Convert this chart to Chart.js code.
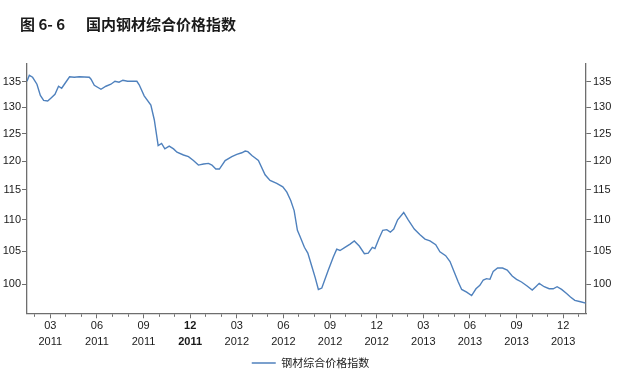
<!DOCTYPE html>
<html>
<head>
<meta charset="utf-8">
<script src="https://cdn.jsdelivr.net/npm/chart.js@4"></script>
<style>
  body { margin: 0; background: #fff; }
  #wrap { position: relative; width: 621px; height: 372px; }
  #title { position: absolute; left: 20px; top: 13px; font: bold 15px "Noto Sans CJK SC"; color: #1a1a1a; white-space: pre; }
  #title .name { position: absolute; left: 66px; top: 0; }
</style>
</head>
<body>
<div id="wrap">
  <canvas id="chart" width="621" height="372"></canvas>
  <div id="title"><span>图 6- 6</span><span class="name">国内钢材综合价格指数</span></div>
</div>
<script>
// month position: 0 = start of Jan 2011, 2 = Mar 2011 ...
const monthPos = [
  0.50, 0.65, 0.86, 1.14, 1.36, 1.57, 1.83, 2.05, 2.30, 2.53, 2.73, 2.95,
  3.24, 3.54, 3.86, 4.51, 4.62, 4.83, 5.26, 5.58, 5.90, 6.16, 6.42, 6.67,
  6.97, 7.57, 7.72, 8.04, 8.47, 8.69, 8.94, 9.16, 9.37, 9.65, 9.93, 10.15,
  10.57, 10.89, 11.21, 11.53, 11.86, 12.18, 12.40, 12.65, 12.88, 13.25, 13.68, 14.00,
  14.32, 14.54, 14.71, 14.97, 15.39, 15.82, 16.14, 16.57, 16.96, 17.22, 17.47, 17.69,
  17.90, 18.07, 18.35, 18.57, 18.82, 19.04, 19.25, 19.47, 19.89, 20.21, 20.43, 20.64,
  20.96, 21.29, 21.56, 21.88, 22.21, 22.46, 22.72, 22.89, 23.15, 23.39, 23.65, 23.88,
  24.10, 24.35, 24.74, 25.03, 25.42, 25.79, 26.11, 26.43, 26.80, 27.07, 27.44, 27.72,
  27.99, 28.25, 28.47, 28.79, 29.11, 29.39, 29.64, 29.86, 30.07, 30.29, 30.50, 30.78,
  31.10, 31.40, 31.72, 32.00, 32.32, 32.68, 33.01, 33.24, 33.46, 33.78, 34.10, 34.36,
  34.61, 34.90, 35.22, 35.47, 35.75, 36.12, 36.45
];
const priceIndex = [
  135.1, 136.3, 135.9, 134.5, 132.3, 131.3, 131.2, 131.8, 132.5, 134.1, 133.7, 134.7,
  136.0, 135.9, 136.0, 135.9, 135.5, 134.3, 133.5, 134.1, 134.5, 135.1, 134.9, 135.3,
  135.1, 135.1, 134.4, 132.2, 130.4, 127.6, 122.8, 123.2, 122.2, 122.7, 122.2, 121.6,
  121.1, 120.8, 120.1, 119.3, 119.5, 119.6, 119.3, 118.6, 118.6, 120.1, 120.8, 121.2,
  121.5, 121.8, 121.7, 121.0, 120.1, 117.6, 116.6, 116.1, 115.5, 114.6, 113.2, 111.5,
  108.3, 107.3, 105.6, 104.7, 102.7, 101.0, 99.2, 99.4, 102.1, 104.1, 105.3, 105.1,
  105.6, 106.1, 106.6, 105.8, 104.6, 104.7, 105.6, 105.4, 107.0, 108.3, 108.4, 108.0,
  108.5, 110.0, 111.2, 110.0, 108.5, 107.6, 106.9, 106.6, 106.0, 104.9, 104.3, 103.4,
  101.8, 100.3, 99.2, 98.8, 98.3, 99.3, 99.8, 100.6, 100.8, 100.7, 101.9, 102.4,
  102.4, 102.1, 101.2, 100.7, 100.3, 99.7, 99.1, 99.6, 100.1, 99.6, 99.3, 99.3,
  99.6, 99.2, 98.6, 98.1, 97.6, 97.4, 97.2
];
const yTicks = [100, 105, 110, 115, 120, 125, 130, 135];
const monthTicks = [];
for (let m = 1; m <= 36; m++) monthTicks.push(m);

const axisColor = '#6e6e6e';
const labelFont = { family: 'Liberation Sans', size: 11, lineHeight: 1.43 };

const points = monthPos.map((m, i) => ({ x: m, y: priceIndex[i] }));

function yAxis(position, width, pad) {
  return {
    type: 'logarithmic',
    position: position,
    min: 95.75,
    max: 138.6,
    bounds: 'data',
    afterBuildTicks: s => { s.ticks = yTicks.map(v => ({ value: v })); },
    afterFit: s => { s.width = width; },
    grid: { drawOnChartArea: false, tickLength: 5, tickColor: axisColor, tickWidth: 1 },
    border: { color: axisColor, width: 1.3 },
    ticks: { callback: v => v, color: '#1a1a1a', font: labelFont, padding: pad }
  };
}

new Chart(document.getElementById('chart'), {
  type: 'line',
  data: {
    datasets: [{
      label: '钢材综合价格指数',
      data: points,
      borderColor: '#4f81bd',
      backgroundColor: '#4f81bd',
      borderWidth: 1.4,
      pointRadius: 0,
      tension: 0
    }]
  },
  options: {
    responsive: false,
    animation: false,
    layout: { padding: { top: 64, left: 0, right: 0, bottom: -6.5 } },
    scales: {
      x: {
        type: 'linear',
        min: 0.5,
        max: 36.47,
        bounds: 'data',
        afterBuildTicks: s => { s.ticks = monthTicks.map(v => ({ value: v })); },
        afterFit: s => { s.height = 44.2; },
        grid: {
          drawOnChartArea: false,
          tickLength: 5,
          tickColor: axisColor,
          tickWidth: 1,
          tickBorderDash: ctx => (ctx.tick && ctx.tick.value % 3 === 2) ? [] : [2.5, 20]
        },
        border: { color: axisColor, width: 1.3 },
        ticks: {
          autoSkip: false,
          maxRotation: 0,
          padding: 0,
          color: '#1a1a1a',
          font: ctx => ({
            family: 'Liberation Sans', size: 11, lineHeight: 1.43,
            weight: (ctx.tick && ctx.tick.value === 11) ? 'bold' : 'normal'
          }),
          callback: v => {
            if (v % 3 !== 2) return '';
            const mm = String(v % 12 + 1).padStart(2, '0');
            return [mm, String(2011 + Math.floor(v / 12))];
          }
        }
      },
      y: yAxis('left', 27, 1),
      y2: yAxis('right', 35, 2)
    },
    plugins: {
      legend: {
        position: 'bottom',
        labels: {
          usePointStyle: true,
          pointStyle: 'line',
          pointStyleWidth: 24,
          padding: 0,
          color: '#222',
          font: { family: 'Noto Sans CJK SC', size: 11 }
        }
      },
      tooltip: { enabled: false }
    }
  }
});
</script>
</body>
</html>
